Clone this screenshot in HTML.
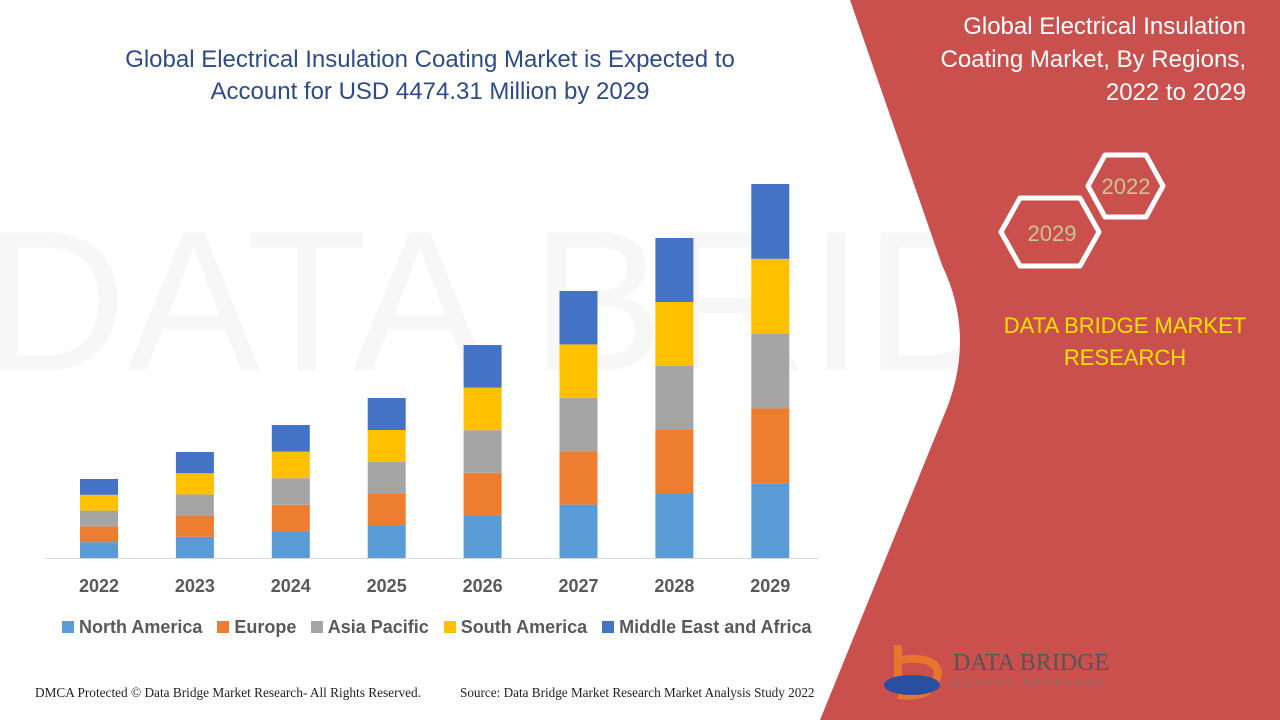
<!DOCTYPE html>
<html><head><style>
body{margin:0;width:1280px;height:720px;overflow:hidden;background:#fff;font-family:"Liberation Sans",sans-serif;position:relative}
.t{position:absolute;white-space:nowrap}
</style></head><body>
<svg width="1280" height="720" style="position:absolute;left:0;top:0">
<text x="640" y="370" font-size="200" fill="#f7f7f7" font-family="Liberation Sans" text-anchor="middle">DATA BRIDGE</text>
<path d="M850,0 L942,265 Q978,340 942,420 L820,720 L1280,720 L1280,0 Z" fill="#c9504c"/>
<line x1="45" y1="558.5" x2="818" y2="558.5" stroke="#d9d9d9" stroke-width="1"/>
<g id="bars"></g>
<polygon points="1088,186 1105,155 1146,155 1163,186 1146,217 1105,217" fill="none" stroke="#fff" stroke-width="5" stroke-linejoin="round"/>
<polygon points="1001,232 1020,198 1080,198 1099,232 1080,266 1020,266" fill="none" stroke="#fff" stroke-width="5" stroke-linejoin="round"/>
<text x="1126" y="194" font-size="22" fill="#c8c49a" text-anchor="middle">2022</text>
<text x="1052" y="241" font-size="22" fill="#c8c49a" text-anchor="middle">2029</text>
<path d="M898,645 L898,690 M898,660 Q935,655 938,672 Q935,700 898,695" stroke="#e8742e" stroke-width="8" fill="none"/>
<ellipse cx="912" cy="685" rx="28" ry="10" fill="#2b4fa0"/>
<text x="953" y="670" font-size="24" fill="#555" font-family="Liberation Serif">DATA BRIDGE</text>
<text x="953" y="686" font-size="8" fill="#777" letter-spacing="5">MARKET RESEARCH</text>
</svg>
<div class="t" style="left:0;width:860px;top:44px;text-align:center;font-size:24px;line-height:32px;color:#2f4a8a">Global Electrical Insulation Coating Market is Expected to<br>Account for USD 4474.31 Million by 2029</div>
<div class="t" style="right:34px;top:10px;text-align:right;font-size:24px;line-height:33px;color:#fff">Global Electrical Insulation<br>Coating Market, By Regions,<br>2022 to 2029</div>
<div class="t" style="left:985px;width:280px;top:310px;text-align:center;font-size:22px;line-height:32px;color:#ffe000">DATA BRIDGE MARKET<br>RESEARCH</div>
<div id="xl"></div>
<div class="t" style="left:62px;top:617px;font-size:18px;font-weight:bold;color:#595959">
<span style="display:inline-block;width:12px;height:12px;background:#5b9bd5"></span> North America&nbsp;&nbsp;
<span style="display:inline-block;width:12px;height:12px;background:#ed7d31"></span> Europe&nbsp;&nbsp;
<span style="display:inline-block;width:12px;height:12px;background:#a5a5a5"></span> Asia Pacific&nbsp;&nbsp;
<span style="display:inline-block;width:12px;height:12px;background:#ffc000"></span> South America&nbsp;&nbsp;
<span style="display:inline-block;width:12px;height:12px;background:#4472c4"></span> Middle East and Africa</div>
<div class="t" style="left:35px;top:685px;font-size:13.3px;font-family:'Liberation Serif',serif;color:#222">DMCA Protected © Data Bridge Market Research- All Rights Reserved.</div>
<div class="t" style="left:460px;top:685px;font-size:13.2px;font-family:'Liberation Serif',serif;color:#222">Source: Data Bridge Market Research Market Analysis Study 2022</div>
<script>
var tops=[479,452,425,398,345,291,238,184],cols=["#5b9bd5","#ed7d31","#a5a5a5","#ffc000","#4472c4"];
var s="",xl="";
for(var i=0;i<8;i++){var x=80+i*95.9,h=(558-tops[i])/5;
for(var j=0;j<5;j++){s+='<rect x="'+x+'" y="'+(558-(j+1)*h)+'" width="38" height="'+h+'" fill="'+cols[j]+'"/>';}
xl+='<div class="t" style="left:'+(x-11)+'px;width:60px;text-align:center;top:576px;font-size:18px;font-weight:bold;color:#595959">'+(2022+i)+'</div>';}
document.getElementById("bars").innerHTML=s;document.getElementById("xl").innerHTML=xl;
</script>
</body></html>
